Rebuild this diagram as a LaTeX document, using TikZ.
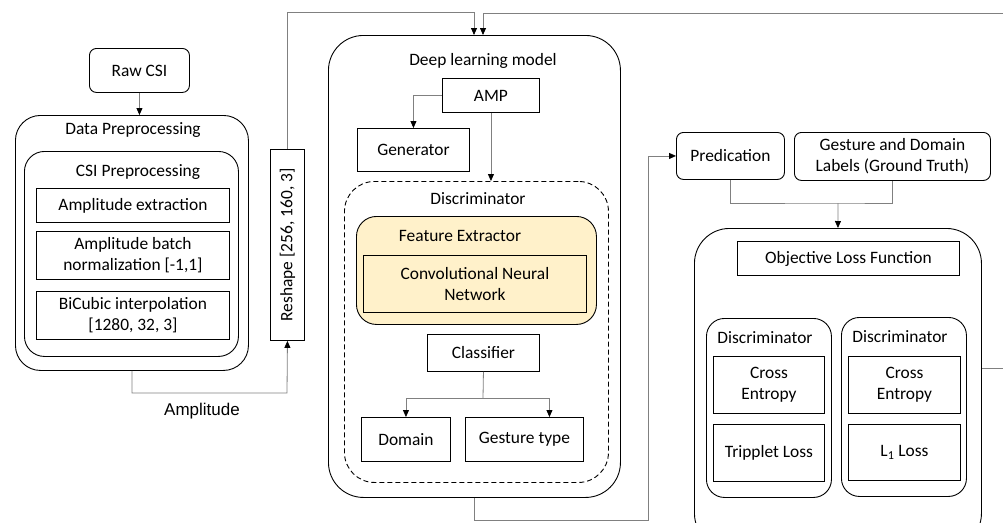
\documentclass[tikz,border=0pt]{standalone}
\usepackage{fontspec}
\setmainfont{Carlito}
\newfontfamily\arialfont{Liberation Sans}
\usepackage{xcolor}
\usetikzlibrary{arrows.meta,positioning}
\definecolor{linegray}{RGB}{128,128,128}
\definecolor{featfill}{RGB}{255,241,202}

\begin{document}
\begin{tikzpicture}[x=1pt, y=-1pt, every node/.style={font=\fontsize{17.4}{21}\selectfont},
  sz/.style 2 args={minimum width=#1pt, minimum height=#2pt, anchor=north west, inner sep=0pt},
  box/.style={rectangle, draw=black, line width=0.9pt, align=center},
  rbox/.style={box, rounded corners=7pt},
  group/.style={rectangle, draw=black, line width=0.9pt, rounded corners=#1},
  conn/.style={draw=linegray, line width=0.8pt},
  arr/.style={conn, -{Triangle[length=7pt, width=6pt, color=black]}}]
\useasboundingbox (0,0) rectangle (1003,522);

% input and preprocessing
\node[rbox, sz={100}{44}] (rawcsi) at (89,48) {Raw CSI};
\node[group=25pt, sz={233}{255}] (dataprep) at (15,115) {};
\node (dataprep title) at (133,130) {Data Preprocessing};
\node[group=20pt, sz={214}{205}] (csiprep) at (24,151) {};
\node (csiprep title) at (138,172) {CSI Preprocessing};
\node[box, sz={193}{34}] (ampext) at (36,188) {Amplitude extraction};
\node[box, sz={193}{48}] (ampnorm) at (36,231) {Amplitude batch\\normalization [-1,1]};
\node[box, sz={193}{48}] (bicubic) at (36,291) {BiCubic interpolation\\{}[1280, 32, 3]};
\node[box, sz={34}{191}] (reshape) at (270,149) {\rotatebox{90}{Reshape [256, 160, 3]}};
\node[font=\arialfont\fontsize{17}{20}\selectfont] (amplabel) at (202,411) {Amplitude};

% deep learning model
\node[group=35pt, sz={292}{462}] (dlmodel) at (328,35) {};
\node (dlmodel title) at (483,61) {Deep learning model};
\node[box, sz={97}{34}] (amp) at (442,78) {AMP};
\node[box, sz={112}{43}] (generator) at (357,128) {Generator};
\node[group=30pt, dash pattern=on 5pt off 3pt, sz={264}{301}] (disc) at (344,181) {};
\node (disc title) at (478,199) {Discriminator};
\node[group=20pt, fill=featfill, sz={240}{108}] (feat) at (356,216) {};
\node (feat title) at (460,236) {Feature Extractor};
\node[box, sz={223}{57}] (cnn) at (363,255) {Convolutional Neural\\Network};
\node[box, sz={112}{37}] (classifier) at (427,334) {Classifier};
\node[box, sz={89}{44}] (domain) at (361,417) {Domain};
\node[box, sz={118}{44}] (gesture) at (465,417) {Gesture type};

% outputs and loss
\node[rbox, sz={108}{47}] (pred) at (676,132) {Predication};
\node[rbox, sz={196}{48}] (labels) at (794,132) {Gesture and Domain\\Labels (Ground Truth)};
\node[group=35pt, sz={287}{320}] (objective) at (694,228) {};
\node[box, sz={222}{34}] (objloss) at (737,241) {Objective Loss Function};
\node[group=18pt, sz={125}{179}] (discl) at (706,318) {};
\node (discl title) at (765,338) {Discriminator};
\node[box, sz={111}{57}] (cel) at (713,356) {Cross\\Entropy};
\node[box, sz={111}{57}] (triplet) at (713,424) {Tripplet Loss};
\node[group=18pt, sz={125}{179}] (discr) at (841,317) {};
\node (discr title) at (900,337) {Discriminator};
\node[box, sz={112}{57}] (cer) at (848,356) {Cross\\Entropy};
\node[box, sz={112}{56}] (lone) at (848,424) {L\textsubscript{1} Loss};

% connectors
\coordinate (topA) at (474,12);
\coordinate (topB) at (483,13);
\coordinate (rightin) at (1003,13);
\coordinate (rightout) at (1003,368);
\coordinate (split) at (483,398);
\coordinate (loopc) at (648,520);
\coordinate (merge) at (838,203);
\draw[arr] (rawcsi.south) -- (rawcsi.south |- dataprep.north);
\draw[arr] (dataprep.south) |- (287,393) -- (reshape.south);
\draw[arr] (reshape.north) |- (topA) -- (topA |- dlmodel.north);
\draw[arr] (rightin) -- (topB) -- (topB |- dlmodel.north);
\draw[arr] (amp.west) -| (generator.north);
\draw[arr] (amp.south) -- (amp.south |- disc.north);
\draw[conn] (classifier.south) -- (split);
\draw[arr] (split) -| (domain.north);
\draw[arr] (split) -| ([xshift=25pt]gesture.north);
\draw[arr] (dlmodel.south) |- (loopc) |- (pred.west);
\draw[conn] (pred.south) |- (merge) -| (labels.south);
\draw[arr] (merge) -- (objective.north);
\draw[conn] (objective.east |- rightout) -- (rightout);
\end{tikzpicture}
\end{document}
